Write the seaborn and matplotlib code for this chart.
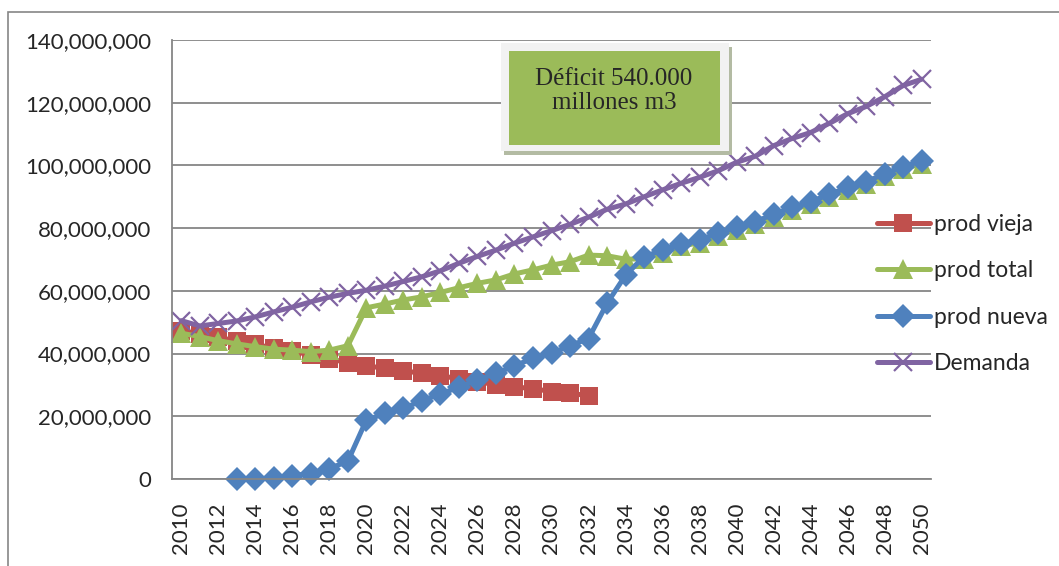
import matplotlib
matplotlib.use("Agg")
import matplotlib.pyplot as plt
import matplotlib.ticker as mticker
from matplotlib.patches import Rectangle
import numpy as np
import pandas as pd
import seaborn as sns

# values, in millions of m3
years_vieja = list(range(2010, 2033))
prod_vieja = [47.2, 46.3, 45.2, 44.0, 42.9, 41.8, 40.7, 39.6, 38.3, 37.1, 36.1,
              35.3, 34.5, 33.7, 32.9, 32.0, 31.0, 30.1, 29.4, 28.8, 27.9, 27.4, 26.5]

years_total = list(range(2010, 2051))
prod_total = [46.5, 45.4, 44.1, 43.1, 42.2, 41.4, 41.1, 40.6, 41.1, 42.5, 54.6,
              55.8, 57.1, 58.1, 59.5, 61.0, 62.4, 63.5, 65.4, 66.7, 68.2, 69.3,
              71.4, 71.2, 70.1, 70.2, 72.2, 74.2, 75.4, 77.6, 79.5, 81.2, 83.6,
              85.8, 87.6, 90.0, 92.2, 94.0, 96.5, 98.8, 100.6]

years_nueva = list(range(2013, 2051))
prod_nueva = [0.0, 0.0, 0.4, 1.1, 1.7, 3.3, 5.7, 18.8, 20.9, 22.5, 25.0, 27.1,
              29.3, 31.6, 33.7, 36.1, 38.5, 40.1, 42.5, 44.8, 56.0, 65.0, 70.9,
              73.0, 75.0, 76.2, 78.5, 80.3, 82.0, 84.5, 86.6, 88.4, 90.8, 93.0,
              94.8, 97.4, 99.6, 101.5]

years_demanda = list(range(2010, 2051))
demanda = [50.5, 48.8, 49.6, 50.4, 51.7, 53.3, 54.8, 56.5, 58.0, 59.2, 60.2,
           61.5, 63.0, 64.5, 66.4, 68.8, 71.0, 73.0, 75.2, 77.2, 79.2, 81.2,
           83.5, 86.0, 87.7, 90.0, 92.2, 94.3, 96.2, 98.3, 101.0, 102.9, 106.3,
           108.6, 110.5, 113.4, 116.5, 118.8, 121.9, 125.5, 127.5]

series = [
    ("prod vieja", years_vieja, prod_vieja, "#C0504D", "s", 13.5, 0),
    ("prod total", years_total, prod_total, "#9BBB59", "^", 14, 0),
    ("prod nueva", years_nueva, prod_nueva, "#4F81BD", "D", 12, 0),
    ("Demanda", years_demanda, demanda, "#8064A2", "x", 12.5, 1.6),
]

sns.set_style("white")
plt.rcParams['font.family'] = ['Lato', 'DejaVu Sans']

W, H = 1059, 566
fig = plt.figure(figsize=(W / 100, H / 100), dpi=100)
ax = fig.add_axes([172 / W, 1 - 479 / H, (931 - 172) / W, (479 - 40) / H])

grid_c = "#868686"
for name, xs, ys, color, mk, ms, mew in series:
    df = pd.DataFrame({"year": xs, "value": np.array(ys) * 1e6})
    kw = dict(markeredgecolor=color, markerfacecolor=color)
    if mk == "x":
        kw["markeredgewidth"] = mew
    else:
        kw["markeredgewidth"] = 0
    sns.lineplot(data=df, x="year", y="value", ax=ax, color=color, linewidth=3.6,
                 marker=mk, markersize=ms, label=name, clip_on=False, **kw)

ax.set_xlim(2009.5, 2050.5)
ax.set_ylim(0, 140e6)
ax.set_xlabel("")
ax.set_ylabel("")

ax.set_yticks(np.arange(0, 140e6 + 1, 20e6))
ax.yaxis.set_major_formatter(mticker.FuncFormatter(lambda v, p: f"{int(v):,}"))
ax.set_xticks(np.arange(2010, 2051, 2))
ax.set_xticks(np.arange(2009.5, 2051, 1), minor=True)
ax.tick_params(axis="x", which="major", length=0, pad=17, labelsize=16, rotation=90)
ax.tick_params(axis="x", which="minor", length=5, width=1.2, color=grid_c, direction="out")
ax.tick_params(axis="y", length=7, width=1.2, color=grid_c, direction="out", pad=8, labelsize=16)
for lab in ax.get_xticklabels():
    lab.set_va("top")

ax.grid(axis="y", color=grid_c, linewidth=1.3)
ax.set_axisbelow(True)
for side in ["top", "right"]:
    ax.spines[side].set_visible(False)
for side in ["left", "bottom"]:
    ax.spines[side].set_color(grid_c)
    ax.spines[side].set_linewidth(1.3)

leg = ax.legend(loc="center left", bbox_to_anchor=(877 / W, 1 - 294 / H),
                bbox_transform=fig.transFigure, frameon=False, fontsize=16.5,
                handlelength=2.3, handletextpad=0.2, labelspacing=1.1,
                borderpad=0, borderaxespad=0, numpoints=1)

# text box with shadow, light frame and green fill
def px_rect(x0, y0, x1, y1, **kw):
    return Rectangle((x0 / W, 1 - y1 / H), (x1 - x0) / W, (y1 - y0) / H,
                     transform=fig.transFigure, **kw)

fig.patches.append(px_rect(504, 47, 732, 155, facecolor="#B3BBA3", edgecolor="none", zorder=5))
fig.patches.append(px_rect(500.5, 43, 728.5, 151, facecolor="#F2F2F2", edgecolor="none", zorder=6))
fig.patches.append(px_rect(508.5, 50.5, 720, 144.5, facecolor="#9BBB59", edgecolor="none", zorder=7))
fig.text(614 / W, 1 - 91 / H, "Déficit 540.000\nmillones m3", ha="center", va="center",
         family="Liberation Serif", fontsize=18, linespacing=1.15, zorder=8)

# outer chart border
fig.patches.append(px_rect(8, 12, W + 5, H + 5, facecolor="none", edgecolor=grid_c,
                           linewidth=1.2, zorder=1))

fig.savefig("out.png", dpi=100)
